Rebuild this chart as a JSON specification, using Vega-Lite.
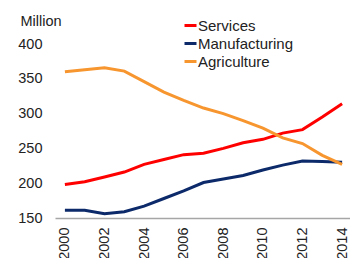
{
  "$schema": "https://vega.github.io/schema/vega-lite/v6.json",
  "autosize": "none",
  "width": 297,
  "height": 174,
  "padding": {"left": 55, "top": 44, "right": 0, "bottom": 40},
  "background": "white",
  "config": {
    "view": {"stroke": null},
    "font": "Liberation Sans"
  },
  "data": {
    "values": [
      {"year": 2000, "sector": "Services", "value": 198},
      {"year": 2001, "sector": "Services", "value": 202},
      {"year": 2002, "sector": "Services", "value": 209},
      {"year": 2003, "sector": "Services", "value": 216},
      {"year": 2004, "sector": "Services", "value": 227},
      {"year": 2005, "sector": "Services", "value": 234},
      {"year": 2006, "sector": "Services", "value": 241},
      {"year": 2007, "sector": "Services", "value": 243},
      {"year": 2008, "sector": "Services", "value": 250},
      {"year": 2009, "sector": "Services", "value": 258},
      {"year": 2010, "sector": "Services", "value": 263},
      {"year": 2011, "sector": "Services", "value": 272},
      {"year": 2012, "sector": "Services", "value": 277},
      {"year": 2013, "sector": "Services", "value": 295},
      {"year": 2014, "sector": "Services", "value": 314},
      {"year": 2000, "sector": "Manufacturing", "value": 161},
      {"year": 2001, "sector": "Manufacturing", "value": 161},
      {"year": 2002, "sector": "Manufacturing", "value": 156},
      {"year": 2003, "sector": "Manufacturing", "value": 159},
      {"year": 2004, "sector": "Manufacturing", "value": 167},
      {"year": 2005, "sector": "Manufacturing", "value": 178},
      {"year": 2006, "sector": "Manufacturing", "value": 189},
      {"year": 2007, "sector": "Manufacturing", "value": 201},
      {"year": 2008, "sector": "Manufacturing", "value": 206},
      {"year": 2009, "sector": "Manufacturing", "value": 211},
      {"year": 2010, "sector": "Manufacturing", "value": 219},
      {"year": 2011, "sector": "Manufacturing", "value": 226},
      {"year": 2012, "sector": "Manufacturing", "value": 232},
      {"year": 2013, "sector": "Manufacturing", "value": 231},
      {"year": 2014, "sector": "Manufacturing", "value": 230},
      {"year": 2000, "sector": "Agriculture", "value": 360},
      {"year": 2001, "sector": "Agriculture", "value": 363},
      {"year": 2002, "sector": "Agriculture", "value": 366},
      {"year": 2003, "sector": "Agriculture", "value": 361},
      {"year": 2004, "sector": "Agriculture", "value": 346},
      {"year": 2005, "sector": "Agriculture", "value": 331},
      {"year": 2006, "sector": "Agriculture", "value": 319},
      {"year": 2007, "sector": "Agriculture", "value": 308},
      {"year": 2008, "sector": "Agriculture", "value": 300},
      {"year": 2009, "sector": "Agriculture", "value": 290},
      {"year": 2010, "sector": "Agriculture", "value": 279},
      {"year": 2011, "sector": "Agriculture", "value": 265},
      {"year": 2012, "sector": "Agriculture", "value": 257},
      {"year": 2013, "sector": "Agriculture", "value": 240},
      {"year": 2014, "sector": "Agriculture", "value": 227}
    ]
  },
  "mark": {"type": "line", "strokeWidth": 3, "clip": false},
  "encoding": {
    "x": {
      "field": "year",
      "type": "quantitative",
      "scale": {"domain": [1999.5, 2014.5], "nice": false, "zero": false},
      "axis": {
        "values": [2000, 2002, 2004, 2006, 2008, 2010, 2012, 2014],
        "format": "d",
        "title": null,
        "labelAngle": -90,
        "labelAlign": "right",
        "labelBaseline": "middle",
        "labelFontSize": 14.5,
        "labelColor": "#222222",
        "labelPadding": 9,
        "ticks": false,
        "grid": false,
        "domainColor": "#a6a6a6",
        "domainWidth": 1.5,
        "labelFlush": false,
        "labelOverlap": false
      }
    },
    "y": {
      "field": "value",
      "type": "quantitative",
      "scale": {"domain": [150, 400], "nice": false, "zero": false},
      "axis": {
        "values": [150, 200, 250, 300, 350, 400],
        "title": "Million",
        "titleAngle": 0,
        "titleX": -35,
        "titleY": -19,
        "titleAlign": "left",
        "titleBaseline": "alphabetic",
        "titleFontSize": 14.5,
        "titleFontWeight": "normal",
        "titleColor": "#222222",
        "labelFontSize": 14.5,
        "labelColor": "#222222",
        "labelPadding": 13,
        "ticks": false,
        "domain": false,
        "grid": false
      }
    },
    "color": {
      "field": "sector",
      "type": "nominal",
      "scale": {
        "domain": ["Services", "Manufacturing", "Agriculture"],
        "range": ["#ff0000", "#0c2a6a", "#f7962f"]
      },
      "legend": {
        "title": null,
        "orient": "none",
        "legendX": 128,
        "legendY": -26,
        "symbolType": "stroke",
        "symbolSize": 144,
        "symbolStrokeWidth": 3,
        "labelFontSize": 15,
        "labelColor": "#222222",
        "labelOffset": 0,
        "rowPadding": 2
      }
    }
  }
}
